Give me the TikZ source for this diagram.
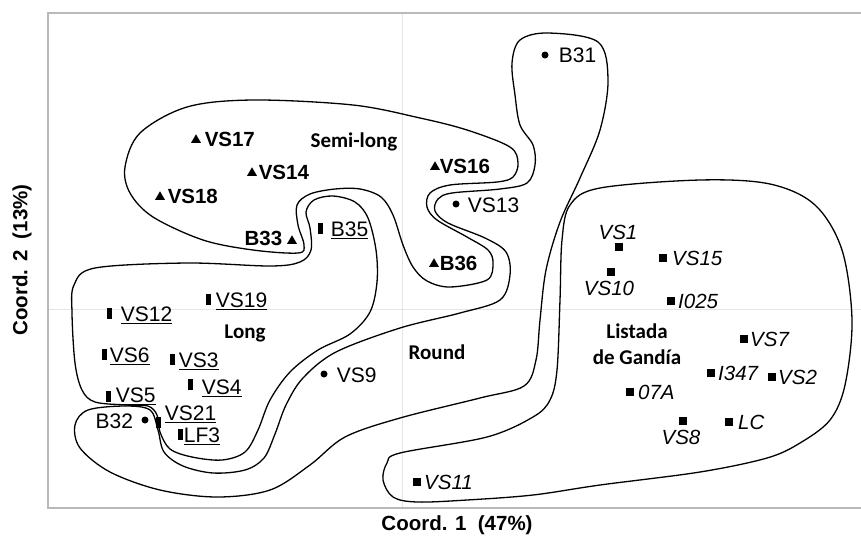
\documentclass[tikz,border=0pt]{standalone}
\usepackage{fontspec}
\setmainfont{Liberation Sans}
\newfontfamily\calfont{Carlito}
\usetikzlibrary{positioning,shapes.geometric}

\begin{document}
\begin{tikzpicture}[
        x=1pt, y=-1pt,
        every node/.style={inner sep=0pt},
        sqmark/.style={fill=black, rectangle, minimum size=7.5pt},
        barmark/.style={fill=black, rectangle, minimum width=5pt, minimum height=11pt},
        trimark/.style={fill=black, regular polygon, regular polygon sides=3, minimum size=11.5pt},
        dotmark/.style={fill=black, circle, minimum size=7pt},
        lab/.style={font=\fontsize{21}{25}\selectfont},
        semilab/.style={font=\fontsize{20.5}{24}\selectfont\bfseries},
        listlab/.style={font=\fontsize{20.5}{24}\selectfont\itshape},
        grp/.style={font=\fontsize{21}{25}\selectfont\calfont\bfseries, align=center},
        axlab/.style={font=\fontsize{20.5}{24}\selectfont\bfseries},
        hull/.style={draw=black, line width=1.3pt}
    ]
    \useasboundingbox (0,0) rectangle (861,539);

    \draw[gray!20, line width=1pt] (402,13) -- (402,508) (48,309) -- (861,309);
    \draw[gray!55, line width=1.3pt] (861,13) -- (48,13) -- (48,508) -- (861,508);

    % groups
    \draw[hull] plot[smooth cycle, tension=0.55] coordinates {
        (187,107) (253,100) (353,105) (420,118) (467,130) (510,147) (518,163)
        (513,177) (497,182) (450,185) (430,193) (427,207) (437,220) (467,237)
        (488,250) (493,263) (487,280) (450,287) (427,281) (413,267) (403,245)
        (393,215) (381,197) (360,189) (335,189) (310,194) (297,205) (298,225)
        (304,245) (298,253) (253,250) (203,240) (153,217) (130,193) (125,167)
        (140,133)};
    \draw[hull] plot[smooth cycle, tension=0.55] coordinates {
        (95,268) (187,263) (270,266) (300,262) (311,250) (310,228) (306,212)
        (314,200) (333,196) (355,202) (368,218) (376,250) (377,282) (370,312)
        (350,334) (318,350) (290,372) (270,400) (258,430) (245,452) (222,460)
        (192,457) (170,449) (160,432) (157,415) (148,406) (127,405) (95,402)
        (82,390) (75,363) (72,313) (74,285)};
    \draw[hull] plot[smooth cycle, tension=0.55] coordinates {
        (548,33) (598,42) (608,80) (600,130) (580,178) (560,222) (546,270)
        (540,320) (536,360) (524,386) (480,398) (400,418) (345,437) (310,465)
        (270,490) (217,497) (160,490) (110,472) (80,448) (75,425) (88,410)
        (125,406) (150,410) (158,430) (164,452) (183,466) (213,473) (245,470)
        (264,458) (275,434) (286,405) (303,378) (336,352) (400,328) (460,313)
        (500,300) (510,275) (506,252) (485,238) (448,223) (435,211) (438,199)
        (452,193) (500,189) (527,183) (535,165) (533,145) (520,125) (515,95)
        (512,63) (520,40)};
    \draw[hull] plot[smooth cycle, tension=0.55] coordinates {
        (600,188) (700,180) (770,184) (815,205) (842,250) (852,320) (845,385)
        (830,420) (800,443) (767,458) (700,472) (600,485) (533,495) (467,500)
        (417,502) (393,497) (383,480) (387,463) (400,453) (487,437) (533,417)
        (550,400) (557,370) (560,300) (562,240) (570,205)};

    % round
    \node[dotmark] (b31) at (545,55) {};
    \node[lab, right=10pt of b31] {B31};
    \node[dotmark] (vs13) at (456,204) {};
    \node[lab, right=8pt of vs13, yshift=-1pt] {VS13};
    \node[dotmark] (vs9) at (324,374) {};
    \node[lab, right=9pt of vs9, yshift=-1pt] {VS9};
    \node[dotmark] (b32) at (145,420) {};
    \node[lab, left=8pt of b32, yshift=-1pt] {B32};

    % semi-long
    \node[trimark] (vs17) at (196,140) {};
    \node[semilab, right=5pt of vs17, yshift=1pt] {VS17};
    \node[trimark] (vs14) at (252,173) {};
    \node[semilab, right=3pt of vs14, yshift=1pt] {VS14};
    \node[trimark] (vs18) at (160,197) {};
    \node[semilab, right=4pt of vs18, yshift=1pt] {VS18};
    \node[trimark] (b33) at (292,241) {};
    \node[semilab, left=6pt of b33, yshift=3pt] {B33};
    \node[trimark] (vs16) at (435,167) {};
    \node[semilab, right=1pt of vs16, yshift=1pt] {VS16};
    \node[trimark] (b36) at (434,264) {};
    \node[semilab, right=2pt of b36, yshift=1pt] {B36};

    % long
    \node[barmark] (vs19) at (208,299) {};
    \node[lab, right=5pt of vs19, yshift=-2pt] {\underline{VS19}};
    \node[barmark] (vs12) at (109,313) {};
    \node[lab, right=9pt of vs12, yshift=-2pt] {\underline{VS12}};
    \node[barmark] (vs6) at (104,354) {};
    \node[lab, right=3pt of vs6, yshift=-2pt] {\underline{VS6}};
    \node[barmark] (vs3) at (172,359) {};
    \node[lab, right=4pt of vs3, yshift=-2pt] {\underline{VS3}};
    \node[barmark] (vs4) at (190,384) {};
    \node[lab, right=9pt of vs4, yshift=-4pt] {\underline{VS4}};
    \node[barmark] (vs5) at (108,396) {};
    \node[lab, right=5pt of vs5, yshift=0pt] {\underline{VS5}};
    \node[barmark] (vs21) at (158,422) {};
    \node[lab, right=4pt of vs21, yshift=8pt] {\underline{VS21}};
    \node[barmark] (lf3) at (180,434) {};
    \node[lab, right=1pt of lf3, yshift=-2pt] {\underline{LF3}};
    \node[barmark] (b35) at (320,228) {};
    \node[lab, right=8pt of b35, yshift=-2pt] {\underline{B35}};

    % listada de gandia
    \node[sqmark] (vs1) at (619,247) {};
    \node[listlab, above=3pt of vs1, xshift=-1pt] {VS1};
    \node[sqmark] (vs15) at (663,258) {};
    \node[listlab, right=5pt of vs15] {VS15};
    \node[sqmark] (vs10) at (611,272) {};
    \node[listlab, below=5pt of vs10, xshift=-2pt] {VS10};
    \node[sqmark] (i025) at (671,301) {};
    \node[listlab, right=3pt of i025] {I025};
    \node[sqmark] (vs7) at (744,339) {};
    \node[listlab, right=2pt of vs7] {VS7};
    \node[sqmark] (i347) at (711,373) {};
    \node[listlab, right=3pt of i347] {I347};
    \node[sqmark] (vs2) at (772,377) {};
    \node[listlab, right=2pt of vs2] {VS2};
    \node[sqmark] (a07) at (630,392) {};
    \node[listlab, right=4pt of a07] {07A};
    \node[sqmark] (vs8) at (683,421) {};
    \node[listlab, below=5pt of vs8, xshift=-2pt] {VS8};
    \node[sqmark] (lc) at (729,422) {};
    \node[listlab, right=5pt of lc] {LC};
    \node[sqmark] (vs11) at (417,482) {};
    \node[listlab, right=3pt of vs11] {VS11};

    \node[grp] (semi) at (354,142) {Semi-long};
    \node[grp] (long) at (245,333) {Long};
    \node[grp] (round) at (437,352) {Round};
    \node[grp] (lista) at (637,344) {Listada\\[1pt]de Gandía};

    \node[axlab] (xt) at (457,525) {Coord. 1\ \ (47\%)};
    \node[axlab, rotate=90] (yt) at (22,260) {Coord. 2\ \ (13\%)};
\end{tikzpicture}
\end{document}
